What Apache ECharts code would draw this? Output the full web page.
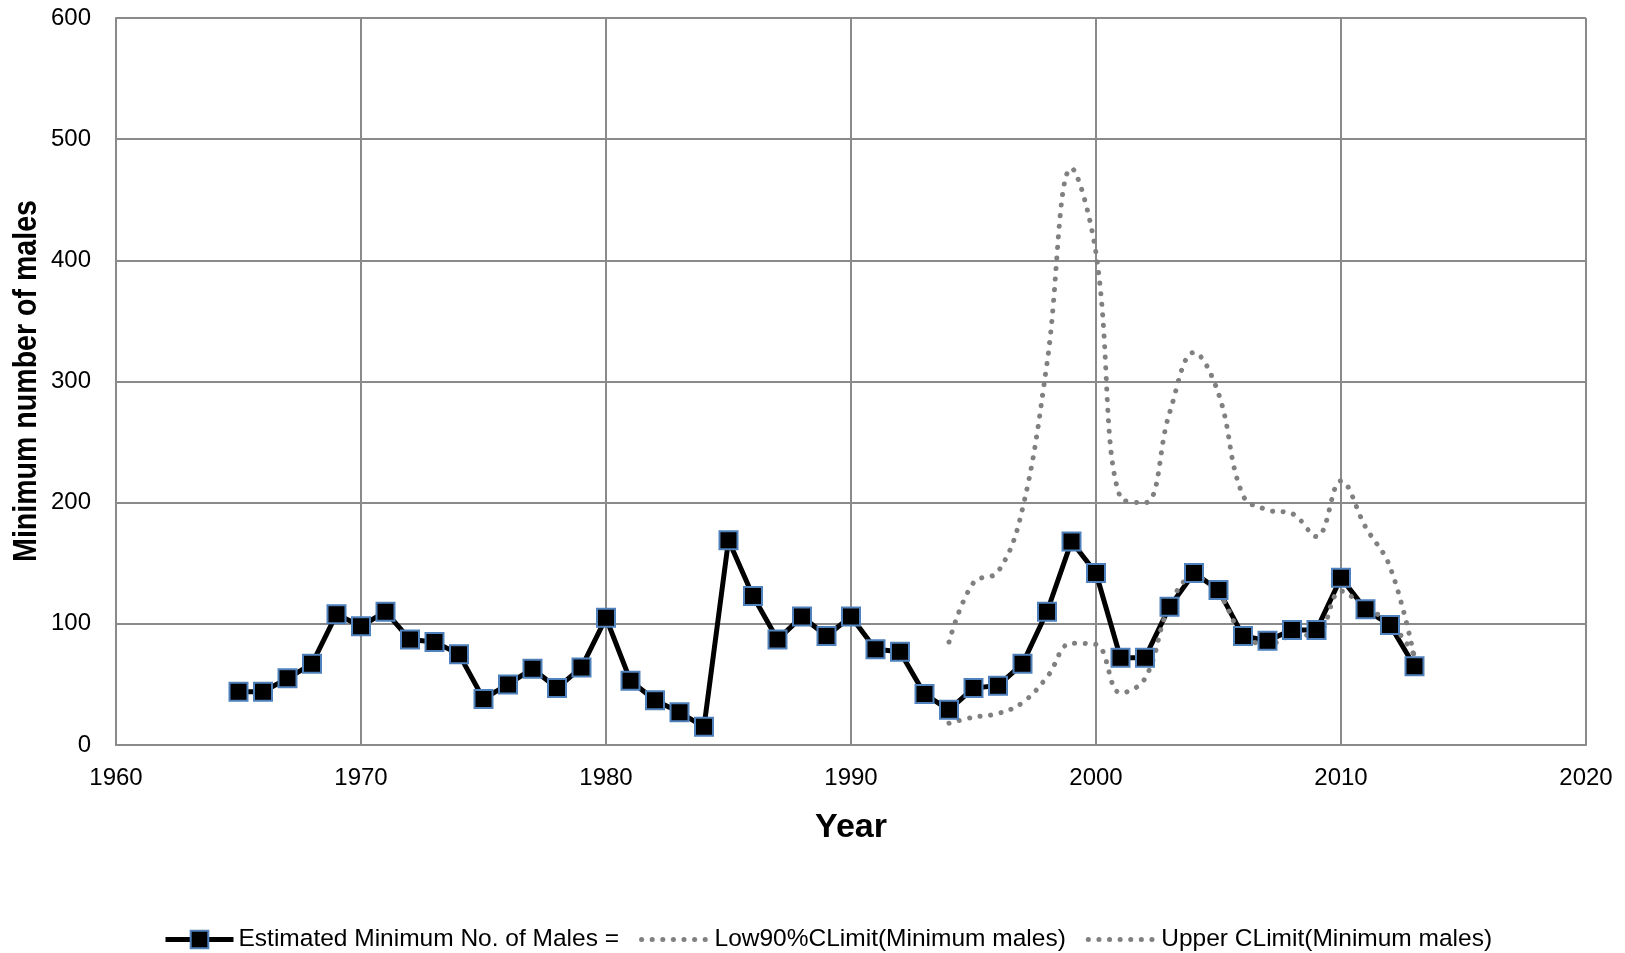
<!DOCTYPE html>
<html>
<head>
<meta charset="utf-8">
<script src="https://cdn.jsdelivr.net/npm/echarts@6/dist/echarts.min.js"></script>
<style>
html,body{margin:0;padding:0;background:#fff;}
#chart{width:1625px;height:953px;}
</style>
</head>
<body>
<div id="chart"></div>
<script>
// Data
var years = [1965,1966,1967,1968,1969,1970,1971,1972,1973,1974,1975,1976,1977,1978,1979,1980,1981,1982,1983,1984,1985,1986,1987,1988,1989,1990,1991,1992,1993,1994,1995,1996,1997,1998,1999,2000,2001,2002,2003,2004,2005,2006,2007,2008,2009,2010,2011,2012,2013];
var estimated = [44,44,55,67,108,98,110,87,85,75,38,50,63,47,64,105,53,37,27,15,169,123,87,106,90,106,79,77,42,29,47,49,67,110,168,142,72,72,114,142,128,90,86,95,95,138,112,99,65];
var ciYears = [1994,1995,1996,1997,1998,1999,2000,2001,2002,2003,2004,2005,2006,2007,2008,2009,2010,2011,2012,2013];
var low90 = [18,23,26,35,56,84,83,43,55,115,139,125,91,83,90,91,127,113,101,74];
var upper = [85,134,143,195,315,476,406,204,200,274,324,290,206,194,191,172,218,180,147,72];
var xTicks = {min:1960, max:2020, interval:10};
var yTicks = {min:0, max:600, interval:100};
var names = ['Estimated Minimum No. of Males =','Low90%CLimit(Minimum males)','Upper CLimit(Minimum males)'];
var yTitle = 'Minimum number of males';

function pairs(xs, ys){ return xs.map(function(x,i){ return [x, ys[i]]; }); }

var chart = echarts.init(document.getElementById('chart'));
var gridColor = '#8a8a8a';
var dotted = {color:'#808080', width:5, type:[0.1, 10.5], cap:'round'};
chart.setOption({
  animation:false,
  backgroundColor:'#ffffff',
  grid:{left:116, right:39, top:18, bottom:208, containLabel:false},
  graphic:[{
    type:'text', x:27, y:381, rotation:Math.PI/2, scaleX:0.84,
    style:{text:yTitle, font:'bold 34px "Liberation Sans"', fill:'#000', align:'center', verticalAlign:'middle'}
  }],
  xAxis:{
    type:'value', min:xTicks.min, max:xTicks.max, interval:xTicks.interval,
    name:'Year', nameLocation:'middle', nameGap:83,
    nameTextStyle:{fontFamily:'Liberation Sans', fontWeight:'bold', fontSize:34, color:'#000', verticalAlign:'middle'},
    axisLine:{show:true, lineStyle:{color:gridColor, width:2}},
    axisTick:{show:false},
    axisLabel:{fontFamily:'Liberation Sans', fontSize:24, color:'#000', margin:21, formatter:function(v){return String(v);}},
    splitLine:{show:true, lineStyle:{color:gridColor, width:2}}
  },
  yAxis:{
    type:'value', min:yTicks.min, max:yTicks.max, interval:yTicks.interval,
    axisLine:{show:true, lineStyle:{color:gridColor, width:2}},
    axisTick:{show:false},
    axisLabel:{fontFamily:'Liberation Sans', fontSize:24, color:'#000', margin:25},
    splitLine:{show:true, lineStyle:{color:gridColor, width:2}}
  },
  legend:{
    top:922, left:158,
    itemWidth:68, itemHeight:22, itemGap:20,
    textStyle:{fontFamily:'Liberation Sans', fontSize:24.5, color:'#000'},
    data:[
      {name:names[0], lineStyle:{width:5, color:'#000'}},
      {name:names[1], itemStyle:{opacity:0}, lineStyle:{width:5, color:'#808080', type:[0.1,10.5], cap:'round'}},
      {name:names[2], itemStyle:{opacity:0}, lineStyle:{width:5, color:'#808080', type:[0.1,10.5], cap:'round'}}
    ]
  },
  series:[
    {
      name:names[0], type:'line', data:pairs(years, estimated),
      symbol:'rect', symbolSize:18,
      lineStyle:{color:'#000', width:5},
      itemStyle:{color:'#000', borderColor:'#4F81BD', borderWidth:2}
    },
    {
      name:names[1], type:'line', data:pairs(ciYears, low90),
      smooth:0.4, showSymbol:false, symbol:'none',
      lineStyle:dotted, itemStyle:{color:'#808080'}
    },
    {
      name:names[2], type:'line', data:pairs(ciYears, upper),
      smooth:0.4, showSymbol:false, symbol:'none',
      lineStyle:dotted, itemStyle:{color:'#808080'}
    }
  ]
});
</script>
</body>
</html>
